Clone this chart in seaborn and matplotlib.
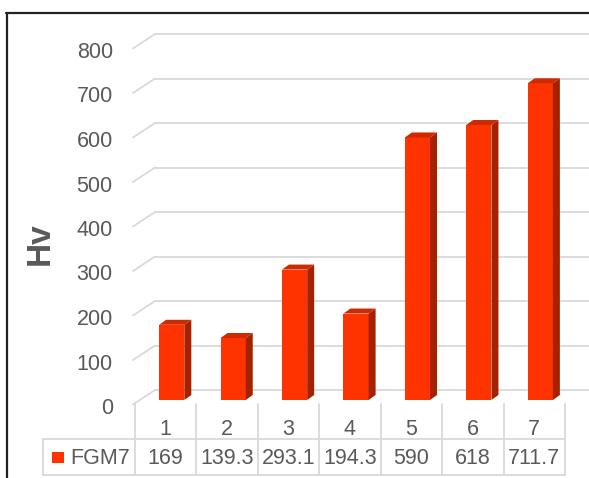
import numpy as np
import pandas as pd
import seaborn as sns
import matplotlib.pyplot as plt
from matplotlib.patches import Polygon, Rectangle
from matplotlib.lines import Line2D
from matplotlib.transforms import ScaledTranslation

# data
samples = ['1', '2', '3', '4', '5', '6', '7']
hv = [169, 139.3, 293.1, 194.3, 590, 618, 711.7]
value_labels = ['169', '139.3', '293.1', '194.3', '590', '618', '711.7']
series_name = 'FGM7'
yticks = [0, 100, 200, 300, 400, 500, 600, 700, 800]

front_c = '#FF3300'
side_c = '#A52200'
top_c = '#CC2A00'
grid_c = '#D9D9D9'
txt_c = '#595959'

sns.set_theme(style='white')
plt.rcParams['font.family'] = ['Liberation Sans', 'DejaVu Sans']

W, H = 589, 478
fig = plt.figure(figsize=(W / 100, H / 100), dpi=100)
# axes in pixel terms: x 135..565, y 0 -> 400px, 800 -> 44px (from top)
ax = fig.add_axes([135 / W, 78 / H, 430 / W, 356 / H])

df = pd.DataFrame({'sample': samples, 'Hv': hv})
sns.barplot(data=df, x='sample', y='Hv', color=front_c, saturation=1,
            width=0.41, linewidth=0, ax=ax, zorder=3)
ax.set_xlim(-0.5, 6.5)
ax.set_ylim(0, 800)

px_x = 430 / 7.0        # pixels per category
px_y = 356 / 800.0      # pixels per Hv unit
shift = 6 / px_x        # bars sit a bit behind/right in the 3d box
dx, dy = 7 / px_x, 5 / px_y

for p in ax.patches:
    p.set_x(p.get_x() + shift)
    x0, x1, h = p.get_x(), p.get_x() + p.get_width(), p.get_height()
    ax.add_patch(Polygon([(x1, 0), (x1 + dx, dy), (x1 + dx, h + dy), (x1, h)],
                         closed=True, facecolor=side_c, lw=0, zorder=3))
    ax.add_patch(Polygon([(x0, h), (x0 + dx, h + dy), (x1 + dx, h + dy), (x1, h)],
                         closed=True, facecolor=top_c, lw=0, zorder=3))

# back wall gridlines + side wall diagonals
bx, by = 20 / px_x, 10 / px_y
fx, fy = -2 / px_x, -4.5 / px_y
xr = (W - 135) / px_x - 0.5
for v in yticks:
    ax.plot([-0.5 + bx, xr], [v + by, v + by], color=grid_c, lw=1.3,
            clip_on=False, zorder=1)
    ax.plot([-0.5 + fx, -0.5 + bx], [v + fy, v + by], color=grid_c, lw=1.3,
            clip_on=False, zorder=1)

for s in ax.spines.values():
    s.set_visible(False)
ax.grid(False)

ax.set_yticks(yticks)
ax.tick_params(axis='y', length=0, pad=16, labelsize=15.5, labelcolor=txt_c)
off = ScaledTranslation(0, -6 / 100, fig.dpi_scale_trans)
for lab in ax.get_yticklabels():
    lab.set_transform(lab.get_transform() + off)
ax.tick_params(axis='x', length=0, pad=14, labelsize=15.5, labelcolor=txt_c)
ax.set_xlabel('')

ax.set_ylabel('Hv', fontsize=24, fontweight='bold', color=txt_c)
ax.yaxis.label.set(rotation_mode='default', va='center', ha='center')
ax.yaxis.set_label_coords((40 - 135) / 430, (400 - 244) / 356)

# data table under the bars
def yf(p):
    return (400 - p) / 356.0

tr = ax.get_xaxis_transform()
xl = (43 - 135) / px_x - 0.5
for i in range(8):
    ax.add_line(Line2D([i - 0.5, i - 0.5], [yf(404), yf(475)], transform=tr,
                       color=grid_c, lw=1.3, clip_on=False))
ax.add_line(Line2D([xl, 6.5], [yf(439), yf(439)], transform=tr,
                   color=grid_c, lw=1.3, clip_on=False))
ax.add_line(Line2D([xl, 6.5], [yf(475), yf(475)], transform=tr,
                   color=grid_c, lw=1.3, clip_on=False))
ax.add_line(Line2D([xl, xl], [yf(439), yf(475)], transform=tr,
                   color=grid_c, lw=1.3, clip_on=False))
for i, t in enumerate(value_labels):
    ax.text(i, yf(458), t, transform=tr, ha='center', va='center',
            fontsize=15.5, color=txt_c, clip_on=False)

fig.patches.append(Rectangle((52 / W, 1 - 463 / H), 12 / W, 11 / H,
                             transform=fig.transFigure, facecolor=front_c,
                             lw=0, figure=fig))
fig.text(70 / W, 1 - 458 / H, series_name, ha='left', va='center',
         fontsize=15.5, color=txt_c)

# outer chart border (cut off at right and bottom)
fig.add_artist(Line2D([6.5 / W, 6.5 / W], [0, 1 - 13 / H], transform=fig.transFigure,
                      color='#222222', lw=1.6))
fig.add_artist(Line2D([6 / W, 1], [1 - 13 / H, 1 - 13 / H], transform=fig.transFigure,
                      color='#222222', lw=1.6))

fig.savefig('out.png', dpi=100, facecolor='white')
